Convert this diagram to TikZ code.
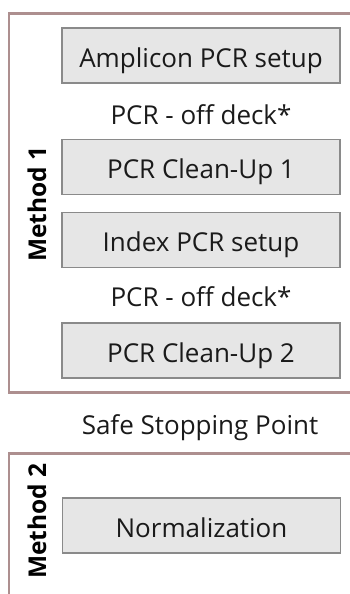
\documentclass[tikz,border=0pt]{standalone}
\usepackage{fontspec}
\setmainfont{Open Sans}
\definecolor{framec}{HTML}{AD8F8F}
\definecolor{boxfill}{HTML}{E6E6E6}
\definecolor{boxborder}{HTML}{8A8A8A}
\definecolor{txt}{HTML}{1A1A1A}
\begin{document}
\begin{tikzpicture}[x=1pt,y=-1pt,
  frame/.style={draw=framec, line width=2.4pt},
  stepbox/.style={draw=boxborder, fill=boxfill, line width=1.4pt, minimum width=278pt, minimum height=55pt, inner sep=0pt, text height=23.6pt, text depth=0pt, text=txt, font=\fontsize{26pt}{30pt}\selectfont},
  lbl/.style={inner sep=0pt, text height=18.8pt, text depth=0pt, text=txt, font=\fontsize{26pt}{30pt}\selectfont},
  method/.style={rotate=90, inner sep=0pt, text=black, font=\bfseries\fontsize{24.5pt}{28pt}\selectfont}]
\useasboundingbox (0,0) rectangle (350,594);
\draw[frame] (360,13.5) -- (8.7,13.5) -- (8.7,392.5) -- (360,392.5);
\draw[frame] (360,453.5) -- (8.7,453.5) -- (8.7,610);
\node[stepbox] (amp) at (201,55.5) {Amplicon PCR setup};
\node[lbl] (off1) at (201,115.5) {PCR - off deck*};
\node[stepbox] (cu1) at (201,167) {PCR Clean-Up 1};
\node[stepbox] (idx) at (201,240) {Index PCR setup};
\node[lbl] (off2) at (201,297) {PCR - off deck*};
\node[stepbox] (cu2) at (201,350.5) {PCR Clean-Up 2};
\node[lbl] (ssp) at (200,425) {Safe Stopping Point};
\node[stepbox] (norm) at (201.5,525.5) {Normalization};
\node[method] (m1) at (37,204) {Method 1};
\node[method] (m2) at (37,521) {Method 2};
\end{tikzpicture}
\end{document}
